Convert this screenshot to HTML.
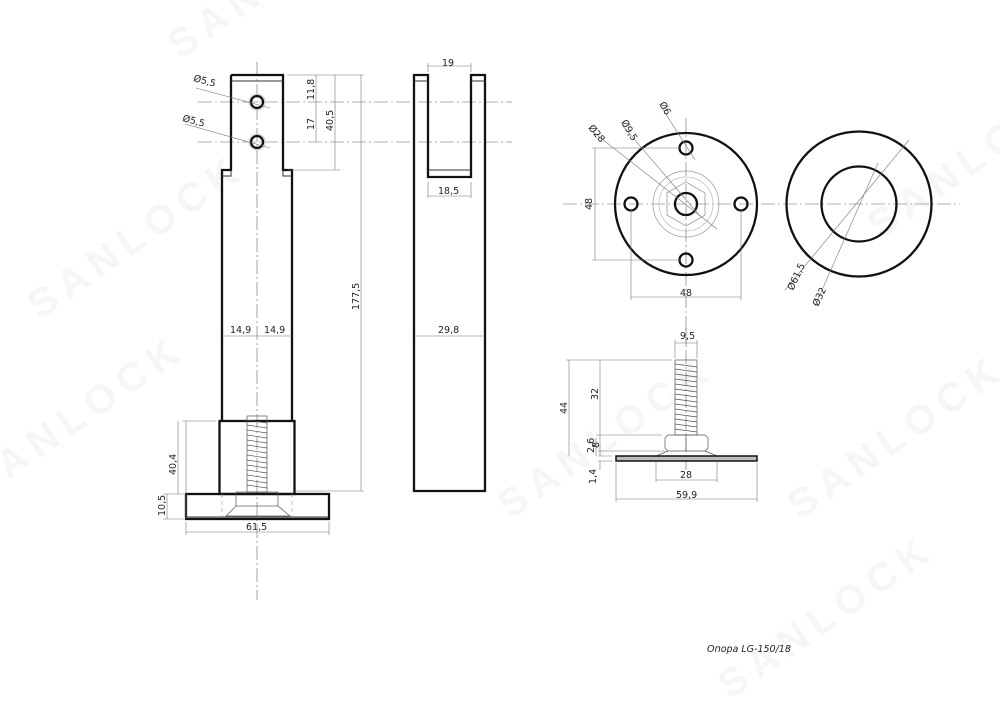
<!DOCTYPE html>
<html><head><meta charset="utf-8"><style>
html,body{margin:0;padding:0;background:#fff;}
svg{display:block;}
text{font-family:"DejaVu Sans","Liberation Sans",sans-serif;font-size:9.5px;fill:#222;}
.t{stroke:#111;stroke-width:2.3;fill:none;}
.m{stroke:#333;stroke-width:1;fill:none;}
.d{stroke:#777;stroke-width:0.6;fill:none;}
.c{stroke:#666;stroke-width:0.6;fill:none;stroke-dasharray:14 3 2 3;}
.h{stroke:#999;stroke-width:0.6;fill:none;stroke-dasharray:4 3;}
.wm{font-family:"Liberation Sans",sans-serif;font-size:40px;font-weight:bold;fill:#f6f6f6;letter-spacing:8px;}
</style></head><body>
<svg width="1000" height="706" viewBox="0 0 1000 706" xmlns="http://www.w3.org/2000/svg">
<g>
<text class="wm" transform="translate(180,60) rotate(-35)">SANLOCK</text>
<text class="wm" transform="translate(40,320) rotate(-35)">SANLOCK</text>
<text class="wm" transform="translate(510,520) rotate(-35)">SANLOCK</text>
<text class="wm" transform="translate(800,520) rotate(-35)">SANLOCK</text>
<text class="wm" transform="translate(-20,500) rotate(-35)">SANLOCK</text>
<text class="wm" transform="translate(880,240) rotate(-35)">SANLOCK</text>
<text class="wm" transform="translate(730,700) rotate(-35)">SANLOCK</text>
</g>

<!-- ===== LEFT VIEW ===== -->
<line class="c" x1="257" y1="62" x2="257" y2="600"/>
<line class="c" x1="198" y1="102" x2="512" y2="102"/>
<line class="c" x1="198" y1="142" x2="512" y2="142"/>
<path class="t" d="M231,75 H283 V170 H292 V421 M222,421 V170 H231 V75"/>
<line class="m" x1="231" y1="81" x2="283" y2="81"/>
<path class="m" d="M222,176 H231 V170 M292,176 H283 V170"/>
<circle cx="257" cy="102" r="6" class="t"/>
<circle cx="257" cy="142" r="6" class="t"/>
<circle cx="257" cy="102" r="8" stroke="#ccc" stroke-width="1" fill="none"/>
<circle cx="257" cy="142" r="8" stroke="#ccc" stroke-width="1" fill="none"/>
<rect x="219.5" y="421" width="75" height="73" class="t"/>
<rect x="186" y="494" width="143" height="25" class="t"/>
<line class="m" x1="187" y1="517" x2="328" y2="517"/>
<g stroke="#555" stroke-width="0.7" fill="none">
<rect x="247" y="416" width="20" height="76"/>
<path d="M247,420 L267,423 M247,425 L267,428 M247,430 L267,433 M247,435 L267,438 M247,440 L267,443 M247,445 L267,448 M247,450 L267,453 M247,455 L267,458 M247,460 L267,463 M247,465 L267,468 M247,470 L267,473 M247,475 L267,478 M247,480 L267,483 M247,485 L267,488"/>
<rect x="236" y="492" width="42" height="14"/>
<path d="M236,506 L226,516 H290 L278,506"/>
</g>
<line class="h" x1="222" y1="494" x2="222" y2="517"/>
<line class="h" x1="292" y1="494" x2="292" y2="517"/>
<g class="d">
<path d="M287,75 H364 M288,170 H340 M296,491 H364"/>
<line x1="361" y1="75" x2="361" y2="491"/>
<line x1="335" y1="75" x2="335" y2="170"/>
<line x1="316" y1="75" x2="316" y2="142"/>
<path d="M222,336 H292"/>
<path d="M216,421 H183 M186,421 V519"/>
<line x1="178" y1="421" x2="178" y2="494"/>
<path d="M167,494 V519 M163,494 H184 M163,519 H184"/>
<line x1="186" y1="522" x2="186" y2="535"/><line x1="329" y1="522" x2="329" y2="535"/>
<line x1="186" y1="532" x2="329" y2="532"/>
<line x1="196" y1="88" x2="270" y2="108"/>
<line x1="185" y1="124" x2="270" y2="148"/>
</g>
<text x="193" y="81" font-size="9" transform="rotate(15 193 81)">Ø5,5</text>
<text x="182" y="121" font-size="9" transform="rotate(15 182 121)">Ø5,5</text>
<text transform="translate(314,100) rotate(-90)">11,8</text>
<text transform="translate(314,130) rotate(-90)">17</text>
<text transform="translate(333,131) rotate(-90)">40,5</text>
<text transform="translate(359,310) rotate(-90)">177,5</text>
<text x="230" y="333">14,9</text>
<text x="264" y="333">14,9</text>
<text transform="translate(176,475) rotate(-90)">40,4</text>
<text transform="translate(165,516) rotate(-90)">10,5</text>
<text x="246" y="530">61,5</text>

<!-- ===== MIDDLE VIEW ===== -->
<path class="t" d="M428,75 H414 V491 H485 V75 H471 V177 H428 Z"/>
<path class="m" d="M414,81 H428 M471,81 H485 M428,170 H471"/>
<g class="d">
<path d="M428,66 H471 M428,63 V72 M471,63 V72"/>
<path d="M428,196 H471 M428,182 V198 M471,182 V198"/>
<path d="M414,336 H485"/>
</g>
<text x="442" y="66">19</text>
<text x="438" y="194">18,5</text>
<text x="438" y="333">29,8</text>

<!-- ===== PLATE VIEWS ===== -->
<line class="c" x1="686" y1="118" x2="686" y2="345"/>
<line class="c" x1="563" y1="204" x2="960" y2="204"/>
<circle cx="686" cy="204" r="71" class="t"/>
<circle cx="686" cy="148" r="6.5" class="t"/>
<circle cx="686" cy="260" r="6.5" class="t"/>
<circle cx="631" cy="204" r="6.5" class="t"/>
<circle cx="741" cy="204" r="6.5" class="t"/>
<circle cx="686" cy="204" r="33" stroke="#999" stroke-width="0.7" fill="none"/>
<circle cx="686" cy="204" r="27" stroke="#bbb" stroke-width="0.7" fill="none"/>
<polygon points="686,182 705,193 705,215 686,226 667,215 667,193" stroke="#888" stroke-width="0.7" fill="none"/>
<circle cx="686" cy="204" r="11" class="t" stroke-width="2.5"/>
<circle cx="859" cy="204" r="72.5" class="t"/>
<circle cx="859" cy="204" r="37.5" class="t"/>
<g class="d">
<path d="M680,148 H592 M680,260 H592 M595,148 V260"/>
<path d="M631,210 V300 M741,210 V300 M631,297 H741"/>
<line x1="593" y1="132" x2="717" y2="229"/>
<line x1="622" y1="125" x2="700" y2="216"/>
<line x1="662" y1="108" x2="695" y2="160"/>
<line x1="909" y1="140" x2="785" y2="290"/>
<line x1="878" y1="163" x2="815" y2="306"/>
</g>
<text x="588" y="128" font-size="9" transform="rotate(50 588 128)">Ø28</text>
<text x="621" y="122" font-size="9" transform="rotate(60 621 122)">Ø9,5</text>
<text x="659" y="104" font-size="9" transform="rotate(60 659 104)">Ø6</text>
<text transform="translate(592,210) rotate(-90)">48</text>
<text x="680" y="296">48</text>
<text transform="translate(793,291) rotate(-65)" font-size="9">Ø61,5</text>
<text transform="translate(818,307) rotate(-65)" font-size="9">Ø32</text>

<!-- ===== SIDE VIEW BOLT ===== -->
<line class="c" x1="686" y1="328" x2="686" y2="470"/>
<g stroke="#555" stroke-width="0.7" fill="none">
<rect x="675" y="360" width="22" height="75"/>
<path d="M675,364 L697,367 M675,369 L697,372 M675,374 L697,377 M675,379 L697,382 M675,384 L697,387 M675,389 L697,392 M675,394 L697,397 M675,399 L697,402 M675,404 L697,407 M675,409 L697,412 M675,414 L697,417 M675,419 L697,422 M675,424 L697,427 M675,429 L697,432"/>
<path d="M665,438 L668,435 H705 L708,438 V448 L705,451 H668 L665,448 Z M686,435 V451"/>
<path d="M668,451 L656,456 M705,451 L717,456"/>
</g>
<rect x="616" y="456" width="141" height="5" stroke="#111" stroke-width="1.5" fill="#bbb"/>
<g class="d">
<path d="M675,358 V340 M697,358 V340 M675,343 H697"/>
<path d="M672,360 H566 M569,360 V456 M600,360 V456"/>
<path d="M662,435 H596 M596,438 V456 M665,451 H598 M598,456 H612 M598,461 H612 M600,461 V470"/>
<path d="M656,461 V482 M717,461 V482 M656,480 H717"/>
<path d="M616,463 V502 M757,463 V502 M616,499 H757"/>
</g>
<text x="680" y="339">9,5</text>
<text transform="translate(567,414) rotate(-90)">44</text>
<text transform="translate(598,400) rotate(-90)">32</text>
<text transform="translate(594,453) rotate(-90)" font-size="8.5">2,6</text>
<text transform="translate(599,448) rotate(-90)" font-size="8">8</text>
<text transform="translate(596,484) rotate(-90)" font-size="8.5">1,4</text>
<text x="680" y="478">28</text>
<text x="676" y="498">59,9</text>

<text x="707" y="652" font-style="italic" font-size="10">Опора LG-150/18</text>
</svg>
</body></html>
